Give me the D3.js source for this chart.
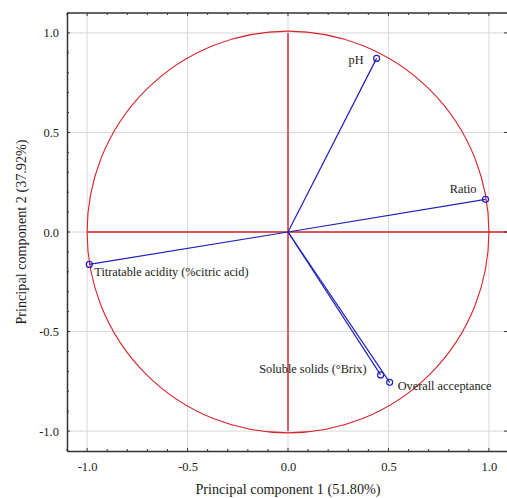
<!DOCTYPE html>
<html>
<head>
<meta charset="utf-8">
<script src="https://cdn.jsdelivr.net/npm/d3@7"></script>
<style>
  body { margin: 0; background: #fff; }
  text { font-family: "Liberation Serif", "Times New Roman", serif; fill: #1a1a1a; }
</style>
</head>
<body>
<div id="chart"></div>
<script>
// PCA loadings
const variables = ["pH", "Ratio", "Titratable acidity (%citric acid)", "Soluble solids (\u00B0Brix)", "Overall acceptance"];
const pc1 = [0.441, 0.983, -0.989, 0.461, 0.506];
const pc2 = [0.872, 0.164, -0.163, -0.718, -0.755];
const majorTicks = [-1.0, -0.5, 0.0, 0.5, 1.0];
const xTitle = "Principal component 1 (51.80%)";
const yTitle = "Principal component 2 (37.92%)";

const width = 507, height = 498;
const margin = { top: 13, left: 67, bottom: 47, right: -2 };

const svg = d3.select("#chart").append("svg")
  .attr("width", width)
  .attr("height", height);

const x = d3.scaleLinear().domain([-1.1, 1.1]).range([margin.left, width - margin.right]);
const y = d3.scaleLinear().domain([-1.1, 1.1]).range([height - margin.bottom, margin.top]);

const minorTicks = d3.range(-11, 12).map(d => d / 10);

// grid
svg.append("g").selectAll("line.gx")
  .data(majorTicks).enter().append("line")
  .attr("x1", d => x(d)).attr("x2", d => x(d))
  .attr("y1", y(1.1)).attr("y2", y(-1.1))
  .attr("stroke", "#d8d8d8").attr("stroke-width", 1);
svg.append("g").selectAll("line.gy")
  .data(majorTicks).enter().append("line")
  .attr("y1", d => y(d)).attr("y2", d => y(d))
  .attr("x1", x(-1.1)).attr("x2", x(1.1))
  .attr("stroke", "#d8d8d8").attr("stroke-width", 1);

// unit circle and red cross
const red = "#d62428";
svg.append("circle")
  .attr("cx", x(0)).attr("cy", y(0))
  .attr("r", x(1) - x(0))
  .attr("fill", "none").attr("stroke", red).attr("stroke-width", 1.1);
svg.append("line")
  .attr("x1", x(0)).attr("x2", x(0)).attr("y1", y(1)).attr("y2", y(-1))
  .attr("stroke", red).attr("stroke-width", 1.4);
svg.append("line")
  .attr("x1", x(-1)).attr("x2", x(1.1)).attr("y1", y(0)).attr("y2", y(0))
  .attr("stroke", red).attr("stroke-width", 1.4);

// axes (ticks pointing inward)
const axisColor = "#333";
const fmt = d => d.toFixed(1);
const bottom = svg.append("g")
  .attr("transform", `translate(0, ${y(-1.1)})`)
  .call(d3.axisBottom(x).tickValues(majorTicks).tickFormat(fmt).tickSize(0).tickPadding(11));
const left = svg.append("g")
  .attr("transform", `translate(${x(-1.1)}, 0)`)
  .call(d3.axisLeft(y).tickValues(majorTicks).tickFormat(fmt).tickSize(0).tickPadding(8));
[bottom, left].forEach(g => {
  g.select(".domain").attr("stroke", axisColor).attr("stroke-width", 1.5);
  g.selectAll("text").attr("font-size", 12.5).attr("font-family", "Liberation Serif, serif").attr("fill", "#333");
});
svg.append("line")
  .attr("x1", x(-1.1)).attr("x2", x(1.1)).attr("y1", y(1.1)).attr("y2", y(1.1))
  .attr("stroke", axisColor).attr("stroke-width", 1.5);

// tick marks inside the frame
const tickG = svg.append("g").attr("stroke", "#333").attr("stroke-width", 1);
const tl = d => (Math.abs(d * 2 - Math.round(d * 2)) < 1e-6 ? 3 : 2);
tickG.selectAll("line.tb").data(minorTicks).enter().append("line")
  .attr("x1", d => x(d)).attr("x2", d => x(d))
  .attr("y1", y(-1.1)).attr("y2", d => y(-1.1) - tl(d));
tickG.selectAll("line.tt").data(minorTicks).enter().append("line")
  .attr("x1", d => x(d)).attr("x2", d => x(d))
  .attr("y1", y(1.1)).attr("y2", d => y(1.1) + tl(d));
tickG.selectAll("line.tl").data(minorTicks).enter().append("line")
  .attr("y1", d => y(d)).attr("y2", d => y(d))
  .attr("x1", x(-1.1)).attr("x2", d => x(-1.1) + tl(d));
tickG.selectAll("line.tr").data(majorTicks).enter().append("line")
  .attr("y1", d => y(d)).attr("y2", d => y(d))
  .attr("x1", width).attr("x2", width - 3);

// loading vectors
const blue = "#1f1fb8";
const points = variables.map((name, i) => ({ name, pc1: pc1[i], pc2: pc2[i] }));
const labelPos = {
  "pH": { dx: -13, dy: 6, anchor: "end" },
  "Ratio": { dx: -9, dy: -6, anchor: "end" },
  "Titratable acidity (%citric acid)": { dx: 5, dy: 12, anchor: "start" },
  "Soluble solids (\u00B0Brix)": { dx: -14, dy: -2, anchor: "end" },
  "Overall acceptance": { dx: 8, dy: 8, anchor: "start" }
};

svg.append("g").selectAll("line")
  .data(points).enter().append("line")
  .attr("x1", x(0)).attr("y1", y(0))
  .attr("x2", d => x(d.pc1)).attr("y2", d => y(d.pc2))
  .attr("stroke", blue).attr("stroke-width", 1.2);

svg.append("g").selectAll("circle")
  .data(points).enter().append("circle")
  .attr("cx", d => x(d.pc1)).attr("cy", d => y(d.pc2))
  .attr("r", 3)
  .attr("fill", "none").attr("stroke", blue).attr("stroke-width", 1.2);

svg.append("g").selectAll("text")
  .data(points).enter().append("text")
  .attr("x", d => x(d.pc1) + labelPos[d.name].dx)
  .attr("y", d => y(d.pc2) + labelPos[d.name].dy)
  .attr("text-anchor", d => labelPos[d.name].anchor)
  .attr("font-size", 12.3)
  .text(d => d.name);

// axis titles
svg.append("text")
  .attr("x", x(0))
  .attr("y", 494)
  .attr("text-anchor", "middle")
  .attr("font-size", 14.2)
  .text(xTitle);

svg.append("text")
  .attr("transform", "rotate(-90)")
  .attr("x", -y(0))
  .attr("y", 26)
  .attr("text-anchor", "middle")
  .attr("font-size", 14.2)
  .text(yTitle);
</script>
</body>
</html>
